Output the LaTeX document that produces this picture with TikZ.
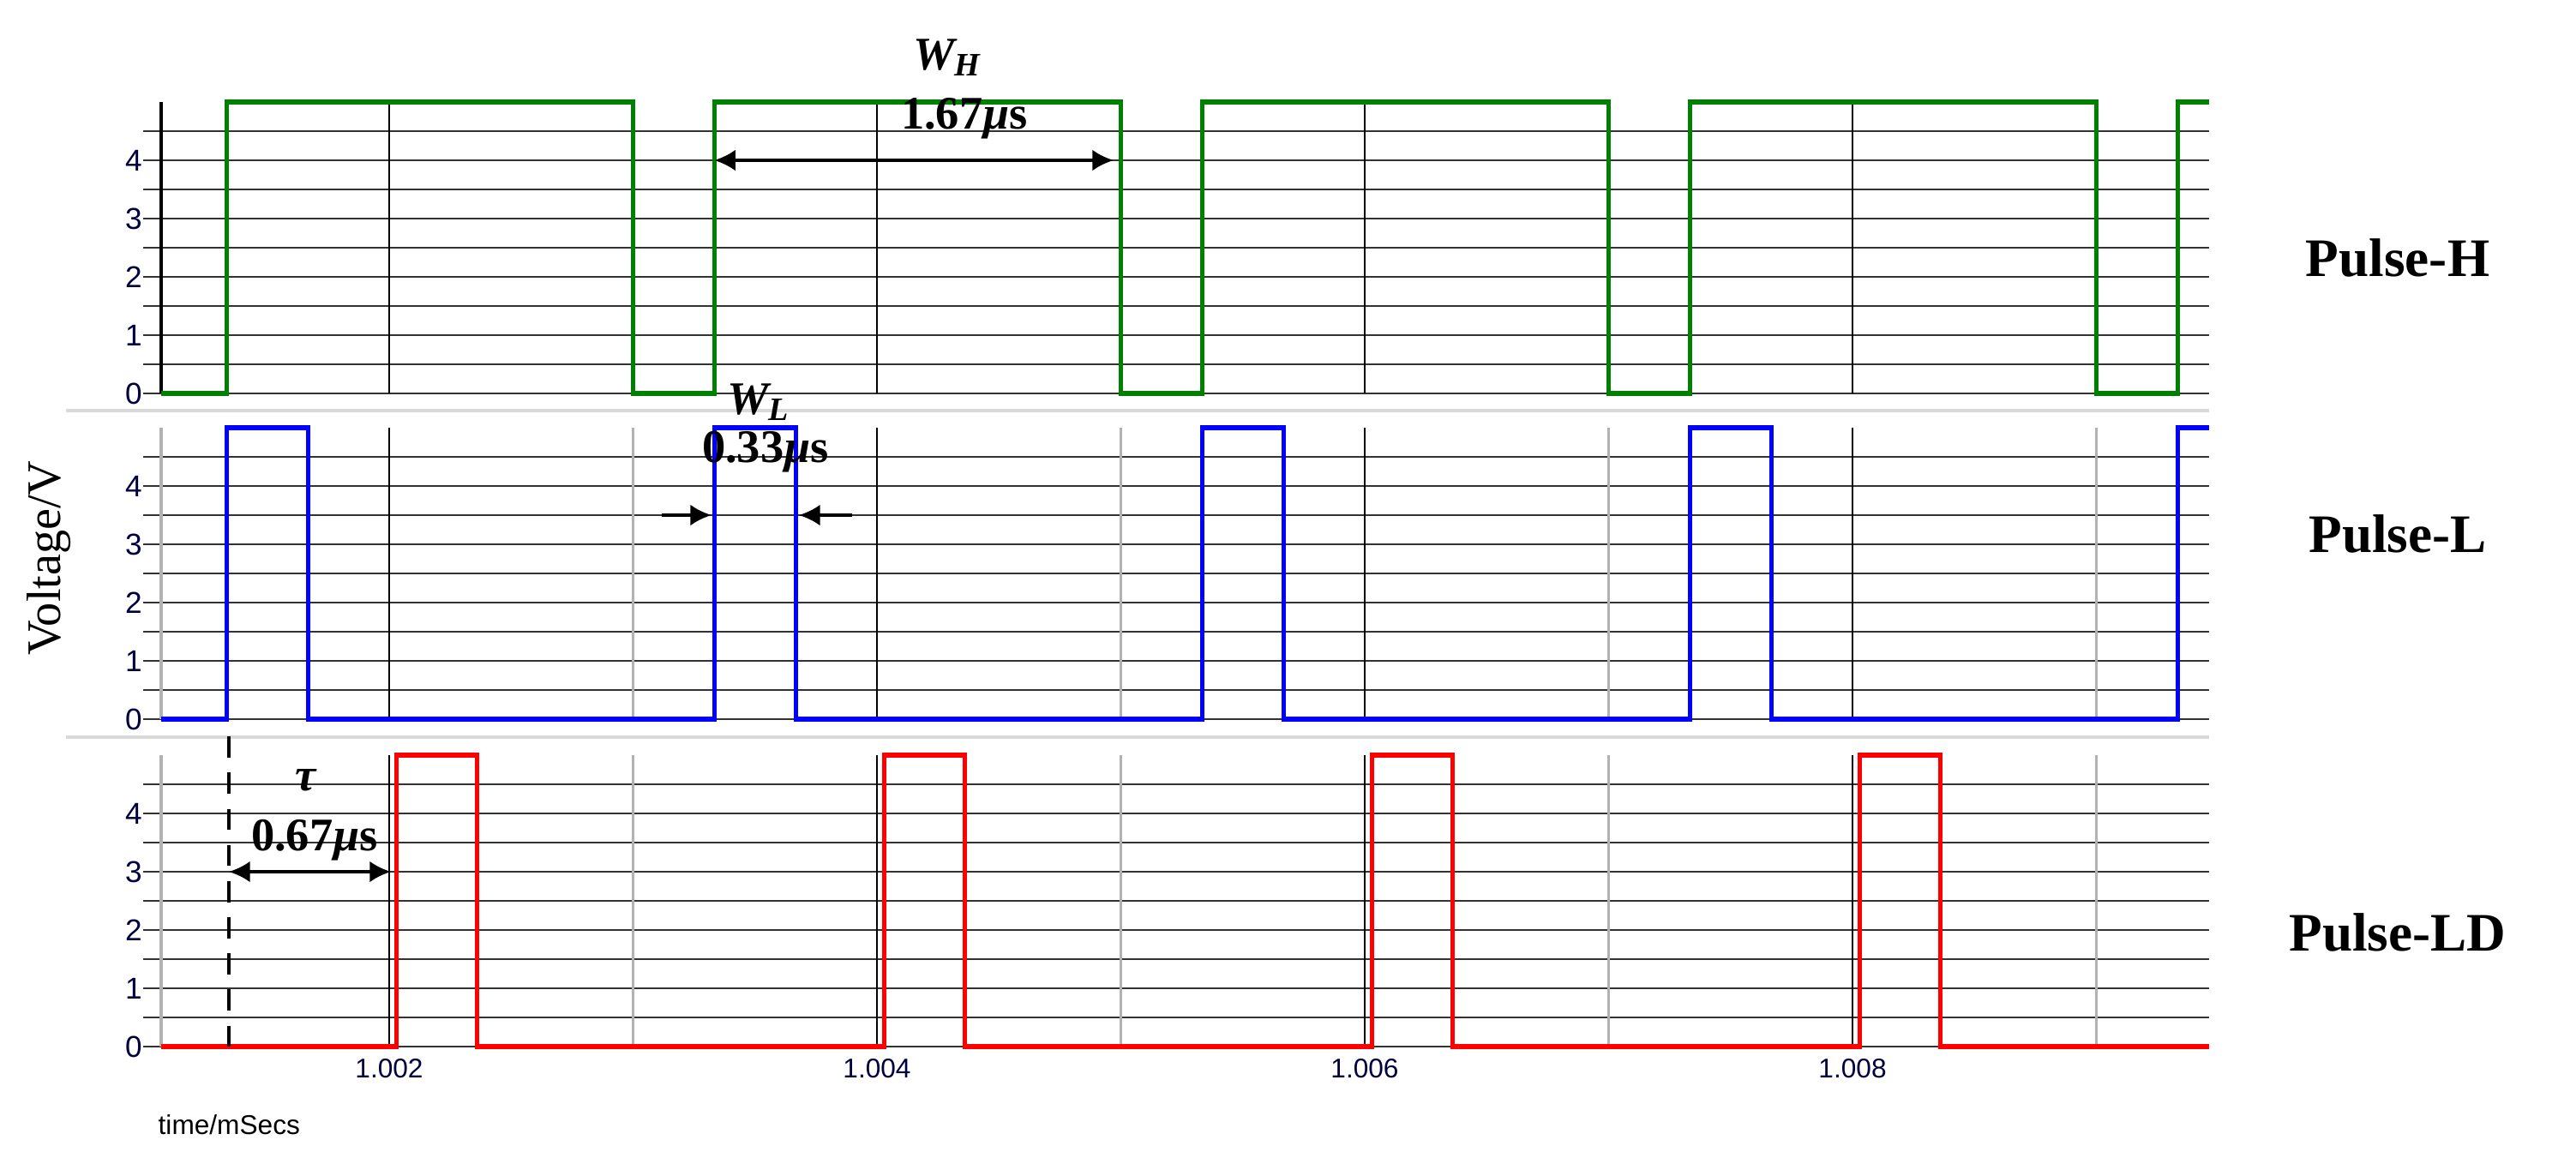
\documentclass[tikz,border=0pt]{standalone}
\usepackage{fontspec}
\setmainfont{Liberation Serif}
\newfontfamily\axf{Liberation Sans}
\usetikzlibrary{arrows.meta}
\begin{document}
\begin{tikzpicture}[declare function={tx(\t)=4.54+(\t-2)*2.845;},
  hgrid/.style={line width=0.8pt, black!80},
  vblack/.style={line width=0.8pt, black},
  vgray/.style={line width=0.8pt, black!30},
  sep/.style={line width=1.4pt, black!15},
  ylab/.style={font=\axf\fontsize{10}{11}\selectfont, text=black!75!blue, anchor=east, inner sep=1pt},
  xlab/.style={font=\axf\fontsize{9}{10}\selectfont, text=black!75!blue, inner sep=1pt},
  ann/.style={font=\fontsize{15.5}{16}\selectfont\bfseries, inner sep=0pt},
  plab/.style={font=\fontsize{18}{20}\selectfont\bfseries, inner sep=0pt},
  dim/.style={{Latex[length=7pt,width=7pt]}-{Latex[length=7pt,width=7pt]}, line width=1pt},
  ptr/.style={-{Latex[length=7pt,width=7pt]}, line width=1pt},
  wave/.style={line width=1.5pt}]
\useasboundingbox (0,0) rectangle (30.05,13.64);
\def\xL{1.88}\def\xR{25.77}
\draw[sep] (0.77,8.85) -- (\xR,8.85);
\draw[sep] (0.77,5.04) -- (\xR,5.04);
\foreach \Z/\ax in {9.05/black,5.25/black!30,1.43/black!30} {
  \begin{scope}[shift={(0,\Z)}, y=0.68cm]
    \foreach \v in {0,0.5,...,4.5} \draw[hgrid] (1.67,\v) -- (\xR,\v);
    \foreach \t in {2,4,6,8} \draw[vblack] ({tx(\t)},0) -- ({tx(\t)},5);
    \foreach \t in {3,5,7,9} \draw[vgray] ({tx(\t)},0) -- ({tx(\t)},5);
    \foreach \v in {0,...,4} \node[ylab] at (1.7,\v) {\v};
    \draw[line width=1.4pt, \ax] (\xL,0) -- (\xL,5);
  \end{scope}
}
% Pulse-H
\begin{scope}[shift={(0,9.05)}, y=0.68cm]
\draw[wave, green!50!black] (\xL,0) -- (2.642,0) -- (2.642,5) -- (7.385,5) -- (7.385,0) -- (8.332,0) -- (8.332,5) -- (13.075,5) -- (13.075,0) -- (14.022,0) -- (14.022,5) -- (18.765,5) -- (18.765,0) -- (19.712,0) -- (19.712,5) -- (24.455,5) -- (24.455,0) -- (25.402,0) -- (25.402,5) -- (\xR,5);
\coordinate (wh1) at (8.332,4);
\coordinate (wh2) at (12.99,4);
\end{scope}
% Pulse-L
\begin{scope}[shift={(0,5.25)}, y=0.68cm]
\draw[wave, blue] (\xL,0) -- (2.642,0) -- (2.642,5) -- (3.593,5) -- (3.593,0) -- (8.332,0) -- (8.332,5) -- (9.283,5) -- (9.283,0) -- (14.022,0) -- (14.022,5) -- (14.973,5) -- (14.973,0) -- (19.712,0) -- (19.712,5) -- (20.663,5) -- (20.663,0) -- (25.402,0) -- (25.402,5) -- (\xR,5);
\coordinate (wl1s) at (7.72,3.5);
\coordinate (wl1e) at (8.30,3.5);
\coordinate (wl2s) at (9.94,3.5);
\coordinate (wl2e) at (9.32,3.5);
\end{scope}
% Pulse-LD
\begin{scope}[shift={(0,1.43)}, y=0.68cm]
\draw[wave, red] (\xL,0) -- (4.625,0) -- (4.625,5) -- (5.564,5) -- (5.564,0) -- (10.315,0) -- (10.315,5) -- (11.254,5) -- (11.254,0) -- (16.005,0) -- (16.005,5) -- (16.944,5) -- (16.944,0) -- (21.695,0) -- (21.695,5) -- (22.634,5) -- (22.634,0) -- (\xR,0);
\coordinate (ta1) at (2.67,3);
\coordinate (ta2) at (4.56,3);
\coordinate (dtop) at (2.67,5.32);
\coordinate (dbot) at (2.67,0);
\end{scope}
\draw[dashed, line width=1pt, dash pattern=on 7pt off 5pt] (dtop) -- (dbot);
% x labels
\foreach \t/\l in {2/1.002,4/1.004,6/1.006,8/1.008} \node[xlab] (x\t) at ({tx(\t)},1.17) {\l};
\node[font=\axf\fontsize{9}{10}\selectfont, anchor=west, inner sep=0pt] (tl) at (1.84,0.52) {time/mSecs};
\node[rotate=90, font=\fontsize{16}{18}\selectfont, inner sep=0pt] (vl) at (0.57,7.13) {Voltage/V};
% annotations
\draw[dim] (wh1) -- (wh2);
\node[ann] (wh) at (11.05,12.97) {\itshape W\textsubscript{H}};
\node[ann] (whv) at (11.25,12.26) {1.67{\itshape µ}s};
\draw[ptr] (wl1s) -- (wl1e);
\draw[ptr] (wl2s) -- (wl2e);
\node[ann] (wl) at (8.85,8.95) {\itshape W\textsubscript{L}};
\node[ann] (wlv) at (8.93,8.37) {0.33{\itshape µ}s};
\draw[dim] (ta1) -- (ta2);
\node[ann] (tau) at (3.57,4.54) {\itshape τ};
\node[ann] (tauv) at (3.67,3.84) {0.67{\itshape µ}s};
% pulse names
\node[plab] (ph) at (27.97,10.63) {Pulse-H};
\node[plab] (pl) at (27.97,7.41) {Pulse-L};
\node[plab] (pld) at (27.97,2.76) {Pulse-LD};
\end{tikzpicture}
\end{document}
